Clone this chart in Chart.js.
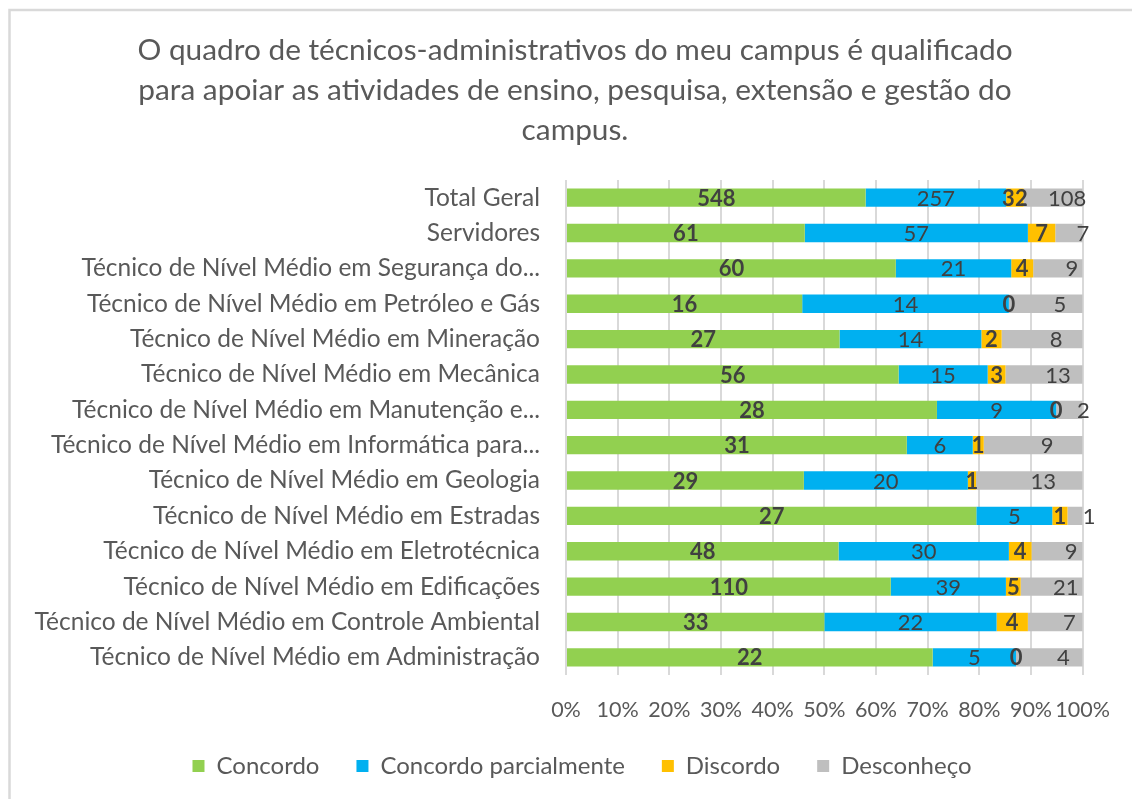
<!DOCTYPE html>
<html>
<head>
<meta charset="utf-8">
<script src="https://cdn.jsdelivr.net/npm/chart.js@4/dist/chart.umd.min.js"></script>
<style>
  html, body { margin: 0; padding: 0; background: #fff; }
  #wrap { width: 1132px; height: 799px; position: relative; }
</style>
</head>
<body>
<div id="wrap"><canvas id="chart"></canvas></div>
<script>
// Título (3 linhas)
var titleLines = [
  'O quadro de técnicos-administrativos do meu campus é qualificado',
  'para apoiar as atividades de ensino, pesquisa, extensão e gestão do',
  'campus.'
];

// Categorias (de cima para baixo)
var categories = [
  'Total Geral',
  'Servidores',
  'Técnico de Nível Médio em Segurança do...',
  'Técnico de Nível Médio em Petróleo e Gás',
  'Técnico de Nível Médio em Mineração',
  'Técnico de Nível Médio em Mecânica',
  'Técnico de Nível Médio em Manutenção e...',
  'Técnico de Nível Médio em Informática para...',
  'Técnico de Nível Médio em Geologia',
  'Técnico de Nível Médio em Estradas',
  'Técnico de Nível Médio em Eletrotécnica',
  'Técnico de Nível Médio em Edificações',
  'Técnico de Nível Médio em Controle Ambiental',
  'Técnico de Nível Médio em Administração'
];

// Respostas (contagens)
var concordo     = [548, 61, 60, 16, 27, 56, 28, 31, 29, 27, 48, 110, 33, 22];
var parcialmente = [257, 57, 21, 14, 14, 15,  9,  6, 20,  5, 30,  39, 22,  5];
var discordo     = [ 32,  7,  4,  0,  2,  3,  0,  1,  1,  1,  4,   5,  4,  0];
var desconheco   = [108,  7,  9,  5,  8, 13,  2,  9, 13,  1,  9,  21,  7,  4];

var seriesNames = ['Concordo', 'Concordo parcialmente', 'Discordo', 'Desconheço'];
var seriesColors = ['#92D050', '#00B0F0', '#FFC000', '#BFBFBF'];
var xTicks = [0, 10, 20, 30, 40, 50, 60, 70, 80, 90, 100];

var FONT = 'Lato, "Open Sans", sans-serif';
var TXT = '#595959';

// totais por linha, para o gráfico 100% empilhado
var totals = categories.map(function(c, i){
  return concordo[i] + parcialmente[i] + discordo[i] + desconheco[i];
});
function pct(arr){
  return arr.map(function(v, i){ return v / totals[i] * 100; });
}

var counts = [concordo, parcialmente, discordo, desconheco];
var datasets = counts.map(function(arr, k){
  return {
    label: seriesNames[k],
    data: pct(arr),
    counts: arr,
    backgroundColor: seriesColors[k],
    borderWidth: 0,
    categoryPercentage: 1,
    barPercentage: 0.52
  };
});

// título + moldura (só topo e esquerda aparecem no recorte)
var titlePlugin = {
  id: 'titleLines',
  afterLayout: function(chart){
    // legenda do original está centrada um pouco mais à direita
    chart.legend.left += 39.5;
    chart.legend.right += 39.5;
  },
  afterDraw: function(chart){
    var ctx = chart.ctx;
    ctx.save();
    ctx.strokeStyle = '#D9D9D9';
    ctx.lineWidth = 2.5;
    ctx.beginPath();
    ctx.moveTo(9.5, chart.height);
    ctx.lineTo(9.5, 10);
    ctx.lineTo(chart.width, 10);
    ctx.stroke();
    ctx.fillStyle = TXT;
    ctx.font = '29.8px ' + FONT;
    ctx.textAlign = 'center';
    ctx.textBaseline = 'middle';
    titleLines.forEach(function(t, i){
      ctx.fillText(t, 575, 50 + i * 40);
    });
    ctx.restore();
  }
};

// rótulos com as contagens dentro das barras
var labelsPlugin = {
  id: 'barLabels',
  afterDatasetsDraw: function(chart){
    var ctx = chart.ctx;
    ctx.save();
    ctx.fillStyle = '#404040';
    ctx.textAlign = 'center';
    ctx.textBaseline = 'middle';
    chart.data.datasets.forEach(function(ds, k){
      var meta = chart.getDatasetMeta(k);
      ctx.font = ((k === 0 || k === 2) ? 'bold ' : '') + '22px ' + FONT;
      var shift = k === 3 ? 14 : 0;   // rótulos cinza ficam mais à direita no original
      meta.data.forEach(function(bar, i){
        var cx = (bar.x + bar.base) / 2 + shift;
        ctx.fillText(String(ds.counts[i]), cx, bar.y + 1);
      });
    });
    ctx.restore();
  }
};

new Chart(document.getElementById('chart'), {
  type: 'bar',
  data: { labels: categories, datasets: datasets },
  options: {
    indexAxis: 'y',
    responsive: true,
    maintainAspectRatio: false,
    animation: false,
    layout: { padding: { top: 180, right: 47, left: 0, bottom: 11 } },
    scales: {
      x: {
        stacked: true,
        min: 0,
        max: 100,
        afterBuildTicks: function(scale){
          scale.ticks = xTicks.map(function(v){ return { value: v }; });
        },
        afterFit: function(scale){ scale.height = 42; },
        ticks: {
          callback: function(v){ return v + '%'; },
          color: TXT,
          font: { family: FONT, size: 21.5 },
          padding: 22,
          maxRotation: 0,
          autoSkip: false
        },
        grid: { color: '#D9D9D9', lineWidth: 2, drawTicks: false },
        border: { display: false }
      },
      y: {
        stacked: true,
        afterFit: function(scale){ scale.width = 566; },
        ticks: {
          color: TXT,
          font: { family: FONT, size: 24.5 },
          padding: 26
        },
        grid: { display: false, drawTicks: false },
        border: { display: false }
      }
    },
    plugins: {
      legend: {
        position: 'bottom',
        labels: {
          color: TXT,
          font: { family: FONT, size: 24 },
          boxWidth: 12,
          boxHeight: 12,
          padding: 37
        }
      },
      tooltip: { enabled: false },
      title: { display: false }
    }
  },
  plugins: [titlePlugin, labelsPlugin]
});
</script>
</body>
</html>
